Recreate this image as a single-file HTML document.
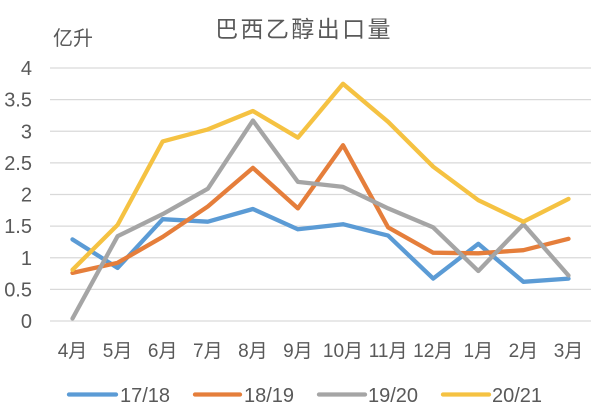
<!DOCTYPE html>
<html>
<head>
<meta charset="utf-8">
<style>
html,body{margin:0;padding:0;background:#fff;}
svg{display:block;}
text{font-family:"Liberation Sans","Noto Sans CJK SC",sans-serif;fill:#595959;}
</style>
</head>
<body>
<svg width="600" height="411" viewBox="0 0 600 411" xmlns="http://www.w3.org/2000/svg">
<rect x="0" y="0" width="600" height="411" fill="#fff"/>
<text x="304" y="37" font-size="23" text-anchor="middle" letter-spacing="2.4">巴西乙醇出口量</text>
<text x="53" y="45" font-size="20">亿升</text>
<g stroke="#d9d9d9" stroke-width="1.3">
<line x1="50" x2="591" y1="321" y2="321"/>
<line x1="50" x2="591" y1="289.4" y2="289.4"/>
<line x1="50" x2="591" y1="257.75" y2="257.75"/>
<line x1="50" x2="591" y1="226.1" y2="226.1"/>
<line x1="50" x2="591" y1="194.5" y2="194.5"/>
<line x1="50" x2="591" y1="162.9" y2="162.9"/>
<line x1="50" x2="591" y1="131.25" y2="131.25"/>
<line x1="50" x2="591" y1="99.6" y2="99.6"/>
<line x1="50" x2="591" y1="68" y2="68"/>
</g>
<g font-size="20" text-anchor="end">
<text x="32" y="328">0</text>
<text x="32" y="296.4">0.5</text>
<text x="32" y="264.75">1</text>
<text x="32" y="233.1">1.5</text>
<text x="32" y="201.5">2</text>
<text x="32" y="169.9">2.5</text>
<text x="32" y="138.25">3</text>
<text x="32" y="106.6">3.5</text>
<text x="32" y="75">4</text>
</g>
<g font-size="19" text-anchor="middle">
<text x="72.5" y="357">4月</text>
<text x="117.6" y="357">5月</text>
<text x="162.7" y="357">6月</text>
<text x="207.8" y="357">7月</text>
<text x="252.9" y="357">8月</text>
<text x="297.9" y="357">9月</text>
<text x="343" y="357">10月</text>
<text x="388.1" y="357">11月</text>
<text x="433.2" y="357">12月</text>
<text x="478.3" y="357">1月</text>
<text x="523.4" y="357">2月</text>
<text x="568.5" y="357">3月</text>
</g>
<g fill="none" stroke-width="4.3" stroke-linejoin="round" stroke-linecap="round">
<polyline stroke="#5B9BD5" points="72.5,239.4 117.6,267.9 162.7,219.2 207.8,221.7 252.9,209 297.9,229.3 343,224.2 388.1,235.6 433.2,278.6 478.3,243.8 523.4,281.8 568.5,278.6"/>
<polyline stroke="#E57E3B" points="72.5,272.9 117.6,262.8 162.7,236.9 207.8,206.5 252.9,167.9 297.9,208.4 343,145.2 388.1,227.4 433.2,252.7 478.3,253.3 523.4,250.2 568.5,238.8"/>
<polyline stroke="#A5A5A5" points="72.5,318.5 117.6,236.2 162.7,214.1 207.8,188.8 252.9,120.5 297.9,181.9 343,186.9 388.1,208.4 433.2,227.4 478.3,271 523.4,224.2 568.5,275.5"/>
<polyline stroke="#F5C242" points="72.5,269.8 117.6,224.9 162.7,141.4 207.8,129.4 252.9,111 297.9,137.6 343,83.8 388.1,121.8 433.2,166.7 478.3,200.2 523.4,221.7 568.5,198.9"/>
</g>
<g stroke-width="4.3" stroke-linecap="round">
<line x1="69" x2="116" y1="394.5" y2="394.5" stroke="#5B9BD5"/>
<line x1="195" x2="240" y1="394.5" y2="394.5" stroke="#E57E3B"/>
<line x1="319" x2="365" y1="394.5" y2="394.5" stroke="#A5A5A5"/>
<line x1="443" x2="489" y1="394.5" y2="394.5" stroke="#F5C242"/>
</g>
<g font-size="20">
<text x="120" y="402">17/18</text>
<text x="244" y="402">18/19</text>
<text x="368" y="402">19/20</text>
<text x="492" y="402">20/21</text>
</g>
</svg>
</body>
</html>
